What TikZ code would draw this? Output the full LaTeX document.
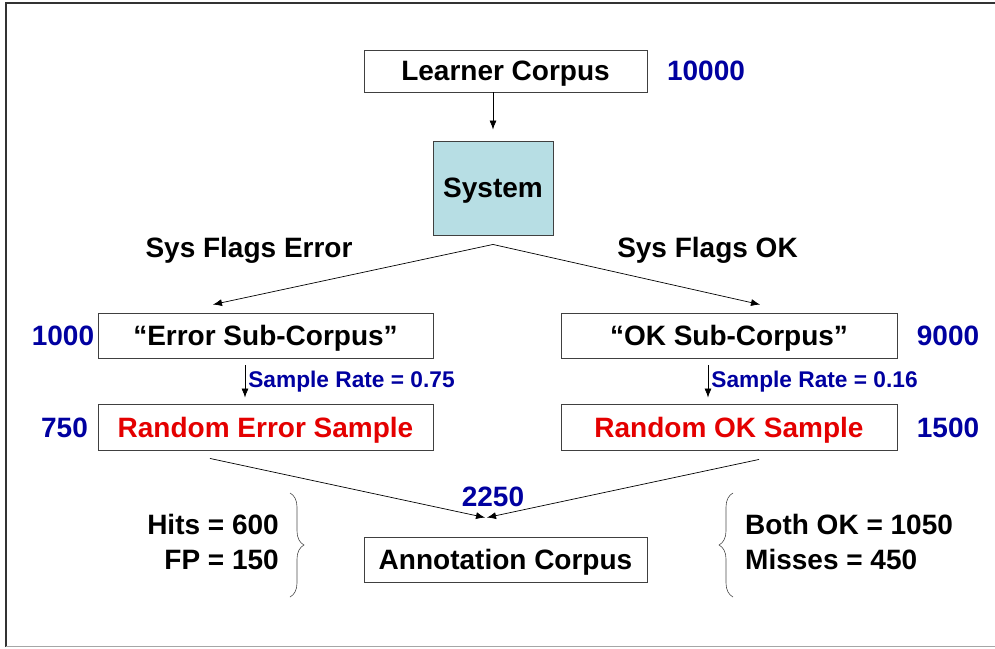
\documentclass[tikz,border=0pt]{standalone}
\usepackage{fontspec}
\setmainfont{Liberation Sans}
\usetikzlibrary{arrows.meta,decorations.pathreplacing}
\definecolor{countblue}{RGB}{0,0,160}
\definecolor{samplered}{RGB}{228,0,0}
\definecolor{sysfill}{RGB}{183,222,228}

\begin{document}
\begin{tikzpicture}[
  x=1pt, y=-1pt,
  every node/.style={font=\fontsize{28}{35}\selectfont\bfseries},
  corpus/.style={shape=rectangle,draw=black!75,line width=0.9pt,inner sep=0pt,text depth=0pt,minimum height=45pt},
  system/.style={corpus,fill=sysfill,minimum width=120pt,minimum height=94pt},
  sample/.style={corpus,minimum height=46pt,text=samplered},
  count/.style={text=countblue,text depth=0pt},
  rate/.style={text=countblue,font=\fontsize{22.7}{26}\selectfont\bfseries,inner sep=3pt},
  flow/.style={draw,-{Latex[length=9pt,width=7pt]},line width=0.7pt},
  tally/.style={draw=black!70,line width=0.6pt,decorate,decoration={brace,amplitude=14pt}}
]
\useasboundingbox (0,0) rectangle (995,648);
% frame
\draw [line width=1.2pt,black!80] (995,3) -- (6,3) -- (6,647);
\draw [line width=1pt,black!35] (6,646.5) -- (995,646.5);

% boxes
\node [corpus,minimum width=283pt,minimum height=42pt] (learner) at (505.5,71) {Learner Corpus};
\node [system] (system) at (493,188) {System};
\node [corpus,minimum width=335pt] (errsub) at (265.5,335.5) {“Error Sub-Corpus”};
\node [corpus,minimum width=336pt] (oksub) at (729,335.5) {“OK Sub-Corpus”};
\node [sample,minimum width=335pt] (errsample) at (265.5,427) {Random Error Sample};
\node [sample,minimum width=336pt] (oksample) at (729,427) {Random OK Sample};
\node [corpus,minimum width=283pt] (annot) at (505.5,559.5) {Annotation Corpus};

% counts
\node [count] (nlearner) at (706,71) {10000};
\node [count] (nerrsub) at (63,335.5) {1000};
\node [count] (noksub) at (948,335.5) {9000};
\node [count] (nerrsample) at (64.5,428) {750};
\node [count] (noksample) at (948,428) {1500};
\node [count] (nannot) at (493,497) {2250};

% branch labels
\node (flagerr) at (249,250) {Sys Flags Error};
\node (flagok) at (707.5,250) {Sys Flags OK};

% outcome tallies
\node [align=right,anchor=east,inner sep=0pt] (errtally) at (279,541.5) {Hits = 600\\FP = 150};
\node [align=left,anchor=west,inner sep=0pt] (oktally) at (745,541.5) {Both OK = 1050\\Misses = 450};
\draw [tally] (290,493) -- (290,597);
\draw [tally] (733,597) -- (733,493);

% connectors
\coordinate (fork) at ([yshift=-9pt]system.south);
\draw [flow] (system.north |- learner.south) -- ([yshift=11pt]system.north);
\draw [flow] (fork) -- ([xshift=-52.5pt,yshift=8pt]errsub.north);
\draw [flow] (fork) -- ([xshift=31pt,yshift=8pt]oksub.north);
\draw [flow] ([xshift=-20.5pt,yshift=-7pt]errsub.south) -- node [rate,right] {Sample Rate = 0.75} ([xshift=-20.5pt,yshift=6pt]errsample.north);
\draw [flow] ([xshift=-21pt,yshift=-7pt]oksub.south) -- node [rate,right] {Sample Rate = 0.16} ([xshift=-21pt,yshift=6pt]oksample.north);
\draw [flow] ([xshift=-55.5pt,yshift=-8pt]errsample.south) -- ([xshift=-20.5pt,yshift=19pt]annot.north);
\draw [flow] ([xshift=30pt,yshift=-9pt]oksample.south) -- ([xshift=-18.5pt,yshift=19pt]annot.north);
\end{tikzpicture}
\end{document}
